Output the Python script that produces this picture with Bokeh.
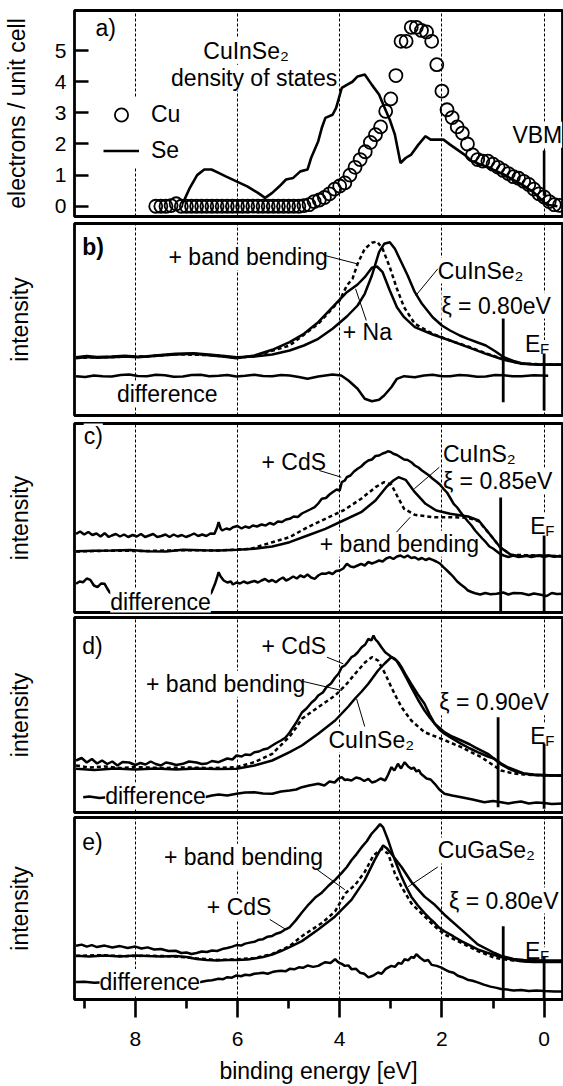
from bokeh.plotting import figure
from bokeh.models import Range1d, FixedTicker, Grid, Label, Legend, LegendItem
from bokeh.layouts import column
from bokeh.embed import file_html
from bokeh.resources import INLINE

FONT = "Liberation Sans"
TXT = "23px"

# ---------------- shared axis ----------------
x_left, x_right = 9.19, -0.36
grid_energies = [8, 6, 4, 2, 0]
minor_energies = [9, 7, 5, 3, 1]
dos_ticks = [0, 1, 2, 3, 4, 5]

# ---------------- panel a: density of states ----------------
cu_energy = [7.6, 7.5, 7.4, 7.3, 7.2, 7.1, 7.0, 6.9, 6.8, 6.7, 6.6, 6.5, 6.4, 6.3, 6.2, 6.1, 6.0,
             5.9, 5.8, 5.7, 5.6, 5.5, 5.4, 5.3, 5.2, 5.1, 5.0, 4.9, 4.8, 4.7, 4.6, 4.5, 4.4, 4.3,
             4.2, 4.1, 4.0, 3.9, 3.8, 3.7, 3.6, 3.5, 3.4, 3.3, 3.2, 3.1, 3.0, 2.9, 2.8, 2.7, 2.6,
             2.5, 2.4, 2.3, 2.2, 2.1, 2.0, 1.9, 1.8, 1.7, 1.6, 1.5, 1.4, 1.3, 1.2, 1.1, 1.0, 0.9,
             0.8, 0.7, 0.6, 0.5, 0.4, 0.3, 0.2, 0.1, 0.0, -0.1, -0.2, -0.3]
cu_dos = [0, 0, 0, 0.02, 0.08, 0, 0, 0, 0, 0, 0, 0, 0, 0, 0, 0, 0,
          0, 0, 0, 0, 0, 0, 0, 0, 0, 0, 0, 0, 0.02, 0.05, 0.15, 0.2, 0.28,
          0.4, 0.55, 0.65, 0.75, 1.0, 1.25, 1.5, 1.75, 2.05, 2.3, 2.55, 3.05, 3.45, 4.2, 5.3, 5.3, 5.75,
          5.75, 5.65, 5.6, 5.3, 4.55, 3.7, 3.1, 2.85, 2.55, 2.35, 2.0, 1.65, 1.5, 1.45, 1.45, 1.35, 1.25,
          1.15, 1.05, 0.95, 0.9, 0.8, 0.7, 0.55, 0.4, 0.3, 0.15, 0.05, 0.03]
se_energy = [7.07, 6.93, 6.79, 6.65, 6.51, 6.37, 6.23, 6.02, 5.81, 5.60, 5.46, 5.32, 5.18, 5.05,
             4.91, 4.77, 4.63, 4.56, 4.42, 4.35, 4.28, 4.14, 4.07, 3.96, 3.86, 3.75, 3.65, 3.51,
             3.37, 3.23, 3.13, 3.02, 2.92, 2.81, 2.71, 2.60, 2.46, 2.32, 2.22, 2.11, 1.97, 1.84,
             1.70, 1.56, 1.42, 1.14, 0.79, 0.44, 0.23, 0.09, -0.05, -0.26]
se_dos = [0.1, 0.6, 1.0, 1.18, 1.18, 1.07, 0.96, 0.8, 0.64, 0.43, 0.27, 0.43, 0.64, 0.86,
          0.91, 1.12, 1.18, 1.55, 2.09, 2.52, 2.84, 2.94, 3.16, 3.8, 3.9, 4.0, 4.17, 4.23,
          3.9, 3.59, 3.2, 2.78, 2.3, 1.39, 1.55, 1.66, 1.98, 2.25, 2.14, 2.14, 2.14, 1.98,
          1.82, 1.66, 1.45, 1.28, 1.02, 0.7, 0.48, 0.27, 0.05, 0.0]
vbm_energy = [0.0]
vbm_low = [0.34]
vbm_high = [1.79]

# ---------------- panel b: CuInSe2 + Na ----------------
b_cis_e = [9.16, 8.95, 8.75, 8.46, 8.2, 7.95, 7.77, 7.5, 7.21, 6.86, 6.51, 6.25, 6.02, 5.67, 5.32,
           4.98, 4.70, 4.42, 4.14, 3.86, 3.65, 3.51, 3.37, 3.23, 3.13, 3.02, 2.92, 2.81, 2.67, 2.53,
           2.39, 2.18, 2.0, 1.84, 1.65, 1.49, 1.3, 1.14, 0.95, 0.79, 0.6, 0.44, 0.25, 0.09, -0.38]
b_cis_i = [58.3, 59.5, 58.5, 59, 59.8, 58.8, 59.3, 60.5, 61.7, 62.3, 60.7, 59.5, 58.3, 59, 61,
           65, 70, 76.7, 86.7, 99, 110, 121.7, 140, 163.3, 171.7, 173.3, 166.7, 155, 140, 123.3,
           111.7, 98.3, 90, 85, 80, 76.7, 73, 70, 64, 58.3, 54.5, 52.3, 51.5, 51, 51]
b_na_e = [9.16, 8.95, 8.75, 8.46, 8.2, 7.95, 7.77, 7.5, 7.21, 6.86, 6.51, 6.25, 6.02, 5.67, 5.32,
          4.98, 4.70, 4.42, 4.14, 3.86, 3.65, 3.51, 3.37, 3.27, 3.16, 3.02, 2.88, 2.74, 2.53, 2.18,
          1.84, 1.49, 1.14, 0.79, 0.44, 0.09, -0.38]
b_na_i = [57.3, 58.5, 57.8, 58.3, 59, 58.2, 59, 60, 61, 61.7, 60, 58.8, 57.3, 60, 65.7,
          73.3, 81.7, 93.3, 108.3, 123.3, 131, 138.3, 147.7, 149, 143.3, 125, 108.3, 98.3, 88.3, 81,
          75, 68.3, 61.7, 55.7, 51.7, 50.7, 50.7]
b_bb_e = [9.16, 8.5, 7.8, 7.2, 6.5, 6.02, 5.67, 4.98, 4.42, 4.0, 3.86, 3.75, 3.65, 3.51, 3.37,
          3.27, 3.16, 3.02, 2.88, 2.74, 2.53, 2.18, 1.84, 1.49, 1.14, 0.79, 0.44, -0.38]
b_bb_i = [57.7, 58.5, 59, 61.3, 60.3, 57.7, 59.3, 70, 91.7, 115, 130, 136.7, 151.7, 166.7, 172.7,
          174, 166.7, 148.3, 126.7, 108.3, 91.7, 81.7, 75, 69, 62.3, 56.3, 51.7, 50.7]
b_diff_e = [9.16, 8.98, 8.81, 8.64, 8.46, 8.29, 8.12, 7.95, 7.77, 7.6, 7.42, 7.25, 7.07, 6.9, 6.72,
            6.55, 6.37, 6.2, 6.02, 5.85, 5.67, 5.5, 5.32, 5.15, 4.98, 4.8, 4.63, 4.42, 4.14, 3.97,
            3.83, 3.65, 3.51, 3.37, 3.23, 3.13, 2.99, 2.88, 2.74, 2.53, 2.35, 2.18, 2.0, 1.84, 1.66,
            1.49, 1.31, 1.14, 0.96, 0.79, 0.62, 0.44, 0.2, -0.08]
b_diff_i = [39.3, 38.5, 40, 39.2, 39, 40.5, 41, 39.5, 39.3, 40.8, 40.3, 38.8, 39, 40.5, 40.7,
            39.2, 39.7, 40.6, 39, 39.8, 40.7, 39.4, 39.3, 40.5, 40, 38.5, 36.7, 39, 41, 40,
            35, 26.7, 16.7, 14.3, 15.7, 20, 28.3, 36.7, 39.3, 38.3, 40, 40.7, 39.2, 39.3, 40.4,
            40, 38.8, 39, 40.5, 40.3, 39.2, 39.3, 40.2, 39.7]

# ---------------- panel c: CuInS2 + CdS ----------------
c_cds_e = [9.16, 9.08, 9.0, 8.92, 8.84, 8.76, 8.68, 8.60, 8.52, 8.46, 8.38, 8.30, 8.22, 8.14, 8.05,
           7.97, 7.89, 7.81, 7.73, 7.65, 7.57, 7.49, 7.41, 7.33, 7.25, 7.17, 7.09, 7.01, 6.93, 6.85,
           6.77, 6.69, 6.61, 6.53, 6.45, 6.40, 6.37, 6.33, 6.30, 6.22, 6.15, 6.09, 6.0, 5.92, 5.85,
           5.77, 5.70, 5.62, 5.53, 5.45, 5.37, 5.29, 5.21, 5.13, 5.05, 4.98, 4.90, 4.82, 4.74, 4.66,
           4.58, 4.49, 4.42, 4.35, 4.27, 4.20, 4.14, 4.06, 4.0, 3.96, 3.90, 3.86, 3.79, 3.72, 3.65,
           3.58, 3.51, 3.44, 3.37, 3.30, 3.23, 3.16, 3.10, 3.06, 3.0, 2.95, 2.88, 2.81, 2.74, 2.67,
           2.60, 2.53, 2.46, 2.39, 2.32, 2.25, 2.18, 2.11, 2.04, 1.97, 1.90, 1.83, 1.77, 1.70, 1.63,
           1.56, 1.49, 1.42, 1.35, 1.28, 1.21, 1.14, 1.07, 1.0, 0.93, 0.86, 0.79, 0.70, 0.60, 0.50,
           0.44, 0.35, 0.25, 0.15, 0.09, 0.0, -0.1, -0.2, -0.3, -0.38]
c_cds_i = [78.7, 81, 78, 80.5, 77.5, 79, 76, 79.3, 75.5, 77, 78.5, 76, 78, 75.5, 77.5,
           76, 78.5, 75.5, 77, 78.5, 75.5, 76.5, 78, 75.5, 78, 76, 77.5, 75.5, 77, 79,
           76.5, 78, 76.5, 79, 78.7, 85, 90.3, 84, 82, 84, 83, 85.3, 86.5, 84, 86,
           84.7, 87, 86, 88, 87, 89.5, 88, 91, 90.5, 93, 93.7, 96, 95.5, 99, 101,
           103, 105.3, 109, 113.7, 114.5, 118, 120.3, 123, 122, 130.3, 132, 135.3, 137, 141, 143.7,
           146, 149.5, 152, 153, 156.5, 157, 159, 160, 161.3, 160.5, 158.7, 157.5, 155.3, 153, 152.5,
           150.3, 147, 145, 142, 139.5, 137, 133.7, 131, 128, 123.7, 120, 114, 108.7, 105, 100,
           95.3, 91, 87, 82, 78, 74, 70.3, 66, 64, 61.3, 58.5, 57, 55.5, 57, 55.5,
           56, 57, 55.5, 56.5, 56.7, 55.5, 57, 55.8, 56.5, 56.3]
c_cis_e = [9.16, 8.8, 8.46, 8.1, 7.77, 7.4, 7.07, 6.7, 6.37, 6.0, 5.67, 5.32, 4.98, 4.63, 4.28,
           3.93, 3.58, 3.30, 3.09, 2.95, 2.85, 2.71, 2.53, 2.32, 2.11, 1.84, 1.49, 1.28, 1.07, 0.86,
           0.65, 0.44, 0.09, -0.38]
c_cis_i = [61.3, 61.8, 62, 62.5, 61.3, 61, 62.7, 62.3, 62, 62.8, 63.7, 66, 70.3, 77, 83.7,
           92, 100.3, 112, 125.3, 132, 135.3, 132.7, 120.3, 108.7, 102, 98.7, 96, 92, 78.7, 65.3,
           57.7, 56.3, 57, 56]
c_bb_e = [9.16, 8.5, 7.8, 7.1, 6.37, 5.74, 5.32, 4.98, 4.63, 4.28, 3.93, 3.58, 3.30, 3.13, 2.99,
          2.88, 2.74, 2.53, 2.18, 1.84, 1.49, 1.28, 1.07, 0.86, 0.65, -0.38]
c_bb_i = [61, 61.8, 61.5, 62.3, 62, 63.7, 70.3, 75.3, 85.3, 93.7, 102, 113.7, 125.3, 130.3, 128,
          117, 103.7, 97.7, 95.3, 95.3, 94.7, 91.3, 78.7, 65.3, 57.7, 56.3]
c_diff_e = [9.16, 9.09, 9.02, 8.95, 8.88, 8.81, 8.74, 8.67, 8.60, 8.55, 8.50, 8.26, 7.77, 7.21, 6.65,
            6.51, 6.44, 6.40, 6.37, 6.33, 6.27, 6.20, 6.13, 6.09, 6.02, 5.95, 5.88, 5.81, 5.74, 5.67,
            5.60, 5.53, 5.46, 5.39, 5.32, 5.25, 5.18, 5.11, 5.05, 4.98, 4.91, 4.84, 4.77, 4.70, 4.63,
            4.56, 4.49, 4.42, 4.35, 4.28, 4.21, 4.14, 4.07, 4.0, 3.93, 3.86, 3.79, 3.72, 3.65, 3.58,
            3.51, 3.44, 3.37, 3.30, 3.23, 3.16, 3.09, 3.02, 2.95, 2.88, 2.81, 2.74, 2.67, 2.60, 2.53,
            2.46, 2.39, 2.32, 2.25, 2.18, 2.11, 2.04, 1.97, 1.90, 1.83, 1.77, 1.70, 1.63, 1.56, 1.49,
            1.42, 1.35, 1.25, 1.15, 1.05, 0.93, 0.80, 0.70, 0.60, 0.44, 0.30, 0.20, 0.09, -0.05,
            -0.15, -0.25, -0.38]
c_diff_i = [28.7, 31, 30.3, 34, 32.7, 27, 25.3, 29, 28.7, 24, 20, 12, 11, 12, 11,
            20, 28.7, 35, 40.3, 36, 32, 30, 31, 28, 30, 29, 31, 29.3, 30.5, 31.5,
            30, 32, 33.5, 31, 32.5, 30.3, 33, 35, 32, 33.7, 36, 34, 37, 35.3, 38,
            35, 33.7, 37, 39, 38.7, 40, 38.5, 41.5, 42, 44, 48.7, 46, 45.3, 47, 48.7,
            47, 50.5, 49, 50.3, 52, 51, 54, 55.3, 53.5, 56, 57, 55, 57, 54.5, 55.3,
            53, 54.5, 52.5, 54, 52.7, 51, 49, 45.3, 42, 38.5, 35.3, 31, 28, 25.3, 22,
            20.5, 19.3, 18, 19.5, 18.3, 18.7, 20, 18, 19.5, 19.3, 17.5, 19, 18, 16.5,
            19.5, 18.5, 18.7]

# ---------------- panel d: CuInSe2 + CdS ----------------
d_cds_e = [9.16, 9.05, 8.95, 8.85, 8.75, 8.65, 8.55, 8.45, 8.35, 8.25, 8.12, 8.0, 7.9, 7.8, 7.7,
           7.6, 7.5, 7.4, 7.3, 7.2, 7.07, 6.95, 6.8, 6.7, 6.6, 6.5, 6.37, 6.2, 6.1, 6.02, 5.92,
           5.85, 5.75, 5.67, 5.58, 5.5, 5.41, 5.32, 5.24, 5.15, 5.06, 4.98, 4.85, 4.74, 4.65, 4.55,
           4.48, 4.42, 4.33, 4.25, 4.17, 4.09, 4.02, 3.96, 3.90, 3.85, 3.77, 3.71, 3.65, 3.57, 3.50,
           3.44, 3.38, 3.34, 3.30, 3.25, 3.18, 3.11, 3.00, 2.92, 2.85, 2.79, 2.70, 2.60, 2.47, 2.34,
           2.24, 2.14, 2.05, 1.95, 1.80, 1.62, 1.45, 1.30, 1.10, 0.97, 0.84, 0.70, 0.55, 0.40, 0.20,
           0.0, -0.20, -0.38]
d_cds_i = [52, 54.5, 50, 53.5, 49, 52, 48.5, 51, 47, 50.5, 50, 47.5, 49.5, 48, 51,
           48.5, 47, 50, 49, 47.5, 48.7, 51, 50, 48.5, 49, 51.5, 50.3, 54, 53, 57, 56,
           58, 57.5, 60.3, 61, 63, 64, 67, 69.5, 72, 75, 80, 90, 100, 104, 110,
           113, 117, 120, 126, 129, 135, 139, 145.3, 147, 150, 155.3, 157, 160, 165.3, 168,
           173.7, 172, 177, 173, 170.3, 165, 160.3, 156, 153.7, 150, 145.3, 137, 128.7, 118, 108.7,
           98, 88.7, 83, 78.7, 74, 68.7, 64, 60.3, 56, 53.7, 49, 45, 42, 39, 38,
           37.5, 37, 37]
d_cis_e = [9.16, 8.8, 8.4, 8.0, 7.6, 7.2, 6.8, 6.4, 6.02, 5.67, 5.32, 4.98, 4.74, 4.42, 4.09,
           3.96, 3.83, 3.70, 3.57, 3.44, 3.35, 3.25, 3.12, 2.99, 2.89, 2.79, 2.70, 2.60, 2.47, 2.34,
           2.24, 2.14, 1.95, 1.80, 1.62, 1.45, 1.36, 1.10, 0.84, 0.70, 0.55, 0.40, 0.20, 0.0, -0.38]
d_cis_i = [43.7, 42.5, 44, 43, 44, 43, 44, 43.5, 43.7, 47, 52, 60.3, 67, 78.7, 92,
           99, 106, 114, 121, 128.7, 135, 142, 149, 155.3, 152, 143.7, 135, 125.3, 113, 102,
           95, 88.7, 80.3, 76, 72, 68, 65.3, 58.7, 48, 44, 41, 39, 37.5, 37, 37]
d_bb_e = [9.16, 8.9, 8.6, 8.3, 8.0, 7.5, 7.0, 6.5, 6.02, 5.67, 5.32, 4.98, 4.85, 4.74, 4.42,
          4.09, 3.89, 3.70, 3.50, 3.37, 3.25, 3.11, 2.99, 2.89, 2.79, 2.60, 2.34, 2.01, 1.62, 1.23,
          0.84, 0.60, 0.40, 0.0, -0.38]
d_bb_i = [47, 45, 46, 44.5, 45.5, 44.5, 45, 44.5, 45.3, 50.3, 58.7, 76, 85, 93.7, 105.3,
          117, 127, 138.7, 150.3, 155.3, 152, 138.7, 125.3, 115, 105.3, 92, 80.3, 73.7, 65.3, 55.3,
          42, 39, 38, 37, 37]
d_diff_e = [9.02, 8.9, 8.7, 8.5, 8.2, 7.9, 7.6, 7.3, 7.0, 6.8, 6.65, 6.5, 6.37, 6.2, 6.02, 5.85,
            5.67, 5.5, 5.32, 5.15, 4.98, 4.85, 4.74, 4.6, 4.42, 4.3, 4.2, 4.1, 4.02, 3.96, 3.9,
            3.85, 3.77, 3.68, 3.6, 3.52, 3.44, 3.37, 3.3, 3.2, 3.11, 3.05, 2.99, 2.93, 2.86, 2.80,
            2.73, 2.66, 2.60, 2.55, 2.5, 2.45, 2.41, 2.3, 2.22, 2.14, 2.05, 1.95, 1.8, 1.62, 1.4,
            1.17, 1.0, 0.84, 0.7, 0.6, 0.45, 0.3, 0.15, 0.0, -0.15, -0.38]
d_diff_i = [15.3, 16, 14.5, 15.5, 15, 16, 15, 15.5, 14.5, 15.5, 15.3, 17, 18, 17, 18.7, 20,
            20.3, 19, 18.7, 21, 22, 23, 25.3, 27, 28.7, 27, 31, 30, 34, 35.3, 32.5,
            33, 32, 35, 34, 31.5, 33.7, 30, 31, 34, 32, 38, 45.3, 42, 48.7, 44,
            50.3, 46, 43.7, 45, 41, 42.5, 38.7, 34, 33, 28.7, 23, 18.7, 17, 15.3, 13,
            10.3, 11.5, 10.3, 9, 10, 11, 9, 10, 9.5, 8.5, 9]

# ---------------- panel e: CuGaSe2 + CdS ----------------
e_cds_e = [9.16, 9.05, 8.95, 8.85, 8.75, 8.6, 8.45, 8.3, 8.15, 8.0, 7.88, 7.76, 7.63, 7.5, 7.35,
           7.21, 7.1, 7.0, 6.9, 6.8, 6.7, 6.6, 6.5, 6.4, 6.3, 6.2, 6.1, 6.02, 5.93, 5.85, 5.76,
           5.67, 5.58, 5.5, 5.41, 5.32, 5.24, 5.15, 5.06, 4.98, 4.86, 4.74, 4.61, 4.48, 4.35, 4.22,
           4.09, 3.96, 3.86, 3.77, 3.67, 3.57, 3.47, 3.38, 3.28, 3.21, 3.15, 3.05, 2.92, 2.79, 2.70,
           2.60, 2.47, 2.34, 2.24, 2.14, 2.05, 1.95, 1.78, 1.62, 1.46, 1.30, 1.13, 0.97, 0.84, 0.6,
           0.4, 0.2, 0.0, -0.38]
e_cds_i = [54.3, 55.5, 53.5, 55, 53, 54.5, 52.5, 54, 52, 53.5, 51.5, 52.7, 50.5, 51, 49,
           49.3, 47, 47.5, 46, 47, 48.5, 48, 49.5, 49, 51, 52, 53.5, 55, 54.5, 56.5, 57.5,
           58.3, 60.5, 61, 63.5, 64.3, 66.5, 68, 71, 73, 80, 88, 96, 103, 108, 115,
           121, 128, 134, 140.7, 147, 154, 160, 167.3, 173, 177.3, 174, 160.7, 140.7, 124, 114,
           104, 95, 87.3, 82, 77.3, 72.5, 69, 64, 59, 55, 50.7, 47.5, 45, 43, 40,
           38.5, 38, 38, 38]
e_cgs_e = [9.16, 8.9, 8.6, 8.3, 8.0, 7.76, 7.5, 7.21, 7.0, 6.8, 6.6, 6.4, 6.2, 6.02, 5.8, 5.67,
           5.5, 5.32, 5.15, 4.98, 4.74, 4.42, 4.09, 3.77, 3.51, 3.32, 3.22, 3.15, 3.08, 2.99, 2.79,
           2.60, 2.34, 2.14, 1.95, 1.62, 1.30, 0.97, 0.84, 0.6, 0.4, 0.0, -0.38]
e_cgs_i = [44.3, 43.5, 44.5, 43.5, 44.5, 44, 43.5, 44, 43, 41, 40, 39.5, 40, 40, 40.5, 41.5,
           43, 45.5, 49, 53, 59, 70.7, 84, 100.7, 120.7, 140.7, 150, 155.7, 153, 147.3, 134,
           119, 104, 95.7, 85.7, 70.7, 55.7, 47, 44, 41, 40, 39.5, 39.5]
e_bb_e = [9.16, 8.7, 8.2, 7.7, 7.2, 6.8, 6.4, 6.02, 5.67, 5.32, 4.98, 4.74, 4.35, 4.09, 3.89,
          3.70, 3.51, 3.34, 3.18, 3.05, 2.92, 2.79, 2.60, 2.34, 2.14, 1.95, 1.62, 1.30, 0.97, 0.84,
          0.6, 0.3, -0.38]
e_bb_i = [44, 44.8, 43.8, 44.3, 43.5, 41.5, 40, 40.5, 42, 46, 54, 64, 77.3, 89, 107.3,
          115.7, 129, 145.7, 152.3, 147.3, 127.3, 114, 97.3, 84, 74, 65.7, 57.3, 49, 42.3, 41,
          39.5, 38.5, 38.5]
e_diff_e = [9.16, 9.0, 8.8, 8.6, 8.3, 8.0, 7.7, 7.4, 7.1, 6.9, 6.72, 6.6, 6.5, 6.37, 6.28, 6.2,
            6.11, 6.02, 5.93, 5.85, 5.76, 5.67, 5.58, 5.5, 5.41, 5.32, 5.24, 5.15, 5.06, 4.98, 4.89,
            4.8, 4.72, 4.63, 4.52, 4.42, 4.35, 4.28, 4.18, 4.09, 4.02, 3.96, 3.9, 3.83, 3.77, 3.68,
            3.6, 3.52, 3.44, 3.35, 3.25, 3.18, 3.1, 2.99, 2.92, 2.85, 2.79, 2.73, 2.66, 2.6, 2.55,
            2.50, 2.42, 2.34, 2.27, 2.2, 2.1, 2.01, 1.93, 1.85, 1.77, 1.69, 1.6, 1.5, 1.4, 1.30,
            1.18, 1.05, 0.95, 0.84, 0.72, 0.6, 0.45, 0.3, 0.15, 0.0, -0.2, -0.38]
e_diff_i = [17.7, 18, 17, 17.5, 17, 18, 17.5, 17, 18, 17.5, 17.7, 19, 19.5, 21, 20.5, 22.5,
            22, 24.3, 23.5, 25, 24.5, 26, 26.5, 27, 26, 27.7, 28.5, 29, 28.5, 31, 30.5,
            32.5, 32, 34.3, 33, 34, 36, 37.7, 37, 40.7, 37.3, 36, 34, 34.5, 30.7, 31,
            27, 26, 22.3, 24, 27.3, 26, 31, 34, 33, 37, 36, 40.7, 39.5, 43, 42,
            45.7, 42, 39, 40, 35, 34, 32.3, 30, 28, 27, 24, 22.5, 20, 19, 17.3,
            15, 13, 12, 10.7, 10, 9, 9.5, 8.5, 9, 8.5, 8, 8]

# markers (panels b, c, d, e)
xi_energy = [0.80, 0.85, 0.90, 0.80]
xi_low = [13.3, 0, 5.3, 1]
xi_high = [97, 115, 95.3, 74]
fermi_energy = [0.0, 0.0, 0.0, 0.0]
ef_low = [5, 0, 3.7, 0]
ef_high = [62, 77, 68.7, 43]

LW = 2.5


def panel(height, btop, bbot, yr, ylabel, bottom_axis=False):
    p = figure(width=563, height=height, x_range=Range1d(x_left, x_right), y_range=yr,
               output_backend="svg", toolbar_location=None,
               x_axis_location="below" if bottom_axis else None, y_axis_location="left",
               min_border_left=72, min_border_right=1, min_border_top=btop, min_border_bottom=bbot)
    p.grid.visible = False
    p.add_layout(Grid(dimension=0, ticker=FixedTicker(ticks=grid_energies),
                      grid_line_color="black", grid_line_width=1, grid_line_dash="3 2"))
    p.outline_line_color = "black"
    p.outline_line_width = 2.8
    p.outline_line_alpha = 1.0
    p.background_fill_color = "white"
    p.border_fill_color = "white"
    ya = p.yaxis[0]
    ya.axis_label = ylabel
    ya.axis_label_text_font = FONT
    ya.axis_label_text_font_size = TXT
    ya.axis_label_text_font_style = "normal"
    ya.axis_label_text_color = "black"
    ya.axis_line_color = None
    ya.minor_tick_line_color = None
    if bottom_axis:
        xa = p.xaxis[0]
        xa.ticker = FixedTicker(ticks=grid_energies, minor_ticks=minor_energies)
        xa.major_tick_in = 0
        xa.major_tick_out = 18
        xa.minor_tick_in = 0
        xa.minor_tick_out = 9
        xa.major_tick_line_width = 2.6
        xa.minor_tick_line_width = 2.6
        xa.major_tick_line_color = "black"
        xa.minor_tick_line_color = "black"
        xa.axis_line_color = None
        xa.major_label_text_font = FONT
        xa.major_label_text_font_size = "21px"
        xa.major_label_text_color = "black"
        xa.major_label_standoff = 14
        xa.axis_label = "binding energy [eV]"
        xa.axis_label_text_font = FONT
        xa.axis_label_text_font_size = TXT
        xa.axis_label_text_font_style = "normal"
        xa.axis_label_text_color = "black"
        xa.axis_label_standoff = 9
    return p


def note(p, x, y, text, size=TXT, align="left", baseline="middle", bold=False,
         level="underlay", xo=0, yo=0):
    p.add_layout(Label(x=x, y=y, text=text, text_font=FONT, text_font_size=size,
                       text_font_style="bold" if bold else "normal", text_align=align,
                       text_baseline=baseline, text_color="black",
                       background_fill_color="white", background_fill_alpha=1.0,
                       x_offset=xo, y_offset=yo, level=level))


def fermi_label(p, x, y):
    note(p, x, y, "E", baseline="alphabetic")
    note(p, x, y, "F", size="15px", baseline="alphabetic", xo=15, yo=-5)


def spectra(p, solid, dashed, diff):
    for e, i in solid:
        p.line(e, i, line_color="black", line_width=LW)
    p.line(dashed[0], dashed[1], line_color="black", line_width=LW, line_dash="4 3")
    p.line(diff[0], diff[1], line_color="black", line_width=LW)


def markers(p, k):
    p.segment(x0=[xi_energy[k]], y0=[xi_low[k]], x1=[xi_energy[k]], y1=[xi_high[k]],
              line_color="black", line_width=2.8)
    p.segment(x0=[fermi_energy[k]], y0=[ef_low[k]], x1=[fermi_energy[k]], y1=[ef_high[k]],
              line_color="black", line_width=2.8)


def leaders(p, segs):
    p.segment(x0=[s[0] for s in segs], y0=[s[1] for s in segs],
              x1=[s[2] for s in segs], y1=[s[3] for s in segs],
              line_color="black", line_width=1)


def intensity_axis(p):
    ax = p.yaxis[0]
    ax.ticker = FixedTicker(ticks=[])
    ax.major_tick_in = 0
    ax.major_tick_out = 0
    ax.major_label_standoff = 0
    ax.axis_label_standoff = 42


# ---------------- panel a ----------------
pa = panel(219, 10, 3, Range1d(-0.33, 6.29), "electrons / unit cell")
ya = pa.yaxis[0]
ya.ticker = FixedTicker(ticks=dos_ticks)
ya.major_tick_in = 14
ya.major_tick_out = 0
ya.major_tick_line_width = 2.6
ya.major_tick_line_color = "black"
ya.major_label_text_font = FONT
ya.major_label_text_font_size = "21px"
ya.major_label_text_color = "black"
ya.major_label_standoff = 8
ya.axis_label_standoff = 22
se_r = pa.line(se_energy, se_dos, line_color="black", line_width=2.6)
cu_r = pa.scatter(cu_energy, cu_dos, marker="circle", size=13, line_color="black",
                  line_width=1.8, fill_color=None)
pa.segment(x0=vbm_energy, y0=vbm_low, x1=vbm_energy, y1=vbm_high, line_color="black", line_width=2.6)
leg = Legend(items=[LegendItem(label="Cu", renderers=[cu_r]), LegendItem(label="Se", renderers=[se_r])],
             location=(29, 49), orientation="vertical", glyph_width=36, glyph_height=33,
             label_height=33, label_standoff=12, spacing=3, padding=0, margin=0,
             background_fill_color="white", background_fill_alpha=1.0, border_line_color=None,
             label_text_font=FONT, label_text_font_size=TXT, label_text_color="black")
pa.add_layout(leg)
note(pa, 8.78, 5.73, "a)")
note(pa, 6.67, 5.0, "CuInSe₂")
note(pa, 7.30, 4.13, "density of states")
note(pa, 0.62, 2.3, "VBM")

# ---------------- panel b ----------------
pb = panel(200, 4, 4, Range1d(0, 192), "intensity")
intensity_axis(pb)
spectra(pb, [(b_cis_e, b_cis_i), (b_na_e, b_na_i)], (b_bb_e, b_bb_i), (b_diff_e, b_diff_i))
markers(pb, 0)
leaders(pb, [(4.29, 160, 3.66, 151.7), (2.08, 146.7, 2.51, 120), (3.48, 95, 3.69, 126.7)])
note(pb, 9.04, 168.3, "b)", bold=True)
note(pb, 7.35, 158.3, "+ band bending")
note(pb, 2.08, 145, "CuInSe₂")
note(pb, 3.94, 83.3, "+ Na")
note(pb, 2.01, 110, "ξ = 0.80eV")
note(pb, 8.36, 21.7, "difference", level="annotation")
fermi_label(pb, 0.376, 72)

# ---------------- panel c ----------------
pc = panel(196, 4, 3, Range1d(0, 189), "intensity")
intensity_axis(pc)
spectra(pc, [(c_cds_e, c_cds_i), (c_cis_e, c_cis_i)], (c_bb_e, c_bb_i), (c_diff_e, c_diff_i))
markers(pc, 1)
leaders(pc, [(4.40, 142, 3.97, 135.3), (2.05, 145.3, 2.54, 123.7), (2.89, 80.3, 2.62, 95.3)])
note(pc, 9.01, 177, "c)")
note(pc, 5.53, 150.3, "+ CdS")
note(pc, 1.98, 158.7, "CuInS₂")
note(pc, 1.98, 132, "ξ = 0.85eV")
note(pc, 4.39, 68.7, "+ band bending")
note(pc, 8.49, 10.3, "difference", level="annotation")
fermi_label(pc, 0.27, 87)

# ---------------- panel d ----------------
pd_ = panel(199, 2, 2, Range1d(0, 195), "intensity")
intensity_axis(pd_)
spectra(pd_, [(d_cds_e, d_cds_i), (d_cis_e, d_cis_i)], (d_bb_e, d_bb_i), (d_diff_e, d_diff_i))
markers(pd_, 2)
leaders(pd_, [(4.25, 155.3, 3.93, 148.7), (4.71, 131, 3.96, 122), (3.67, 113.7, 3.51, 86)])
note(pd_, 9.04, 167, "d)")
note(pd_, 5.53, 167, "+ CdS")
note(pd_, 7.79, 128.7, "+ band bending")
note(pd_, 4.22, 73, "CuInSe₂")
note(pd_, 2.05, 110.3, "ξ = 0.90eV")
note(pd_, 8.59, 17, "difference", level="annotation")
fermi_label(pd_, 0.27, 77)

# ---------------- panel e ----------------
pe = panel(272, 3, 85, Range1d(0, 184), "intensity", bottom_axis=True)
intensity_axis(pe)
spectra(pe, [(e_cds_e, e_cds_i), (e_cgs_e, e_cgs_i)], (e_bb_e, e_bb_i), (e_diff_e, e_diff_i))
markers(pe, 3)
leaders(pe, [(4.46, 132, 3.90, 111), (5.37, 81, 5.06, 71), (2.08, 134, 2.66, 114)])
note(pe, 9.04, 159.3, "e)")
note(pe, 7.44, 144.3, "+ band bending")
note(pe, 6.6, 93.7, "+ CdS")
note(pe, 2.08, 150.7, "CuGaSe₂")
note(pe, 1.86, 100, "ξ = 0.80eV")
note(pe, 8.7, 17.7, "difference", level="annotation")
fermi_label(pe, 0.376, 49.3)

layout = column(pa, pb, pc, pd_, pe, spacing=0)
open("out.html", "w").write(file_html(layout, INLINE))
